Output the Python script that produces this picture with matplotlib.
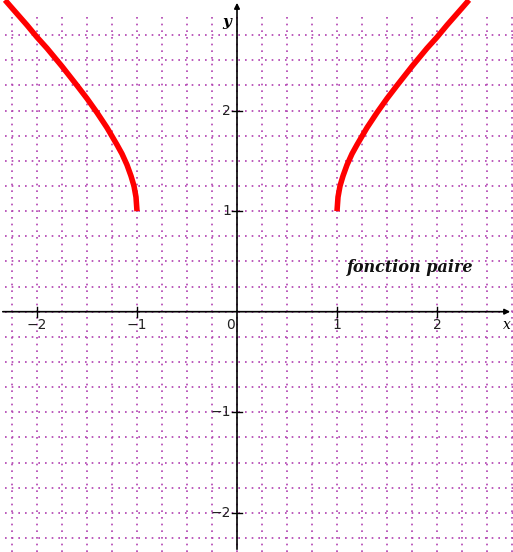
import numpy as np
import matplotlib.pyplot as plt

# right branch (the function is even, left branch mirrors it)
x_right = [1.0, 1.01, 1.03, 1.06, 1.1, 1.15, 1.2, 1.3, 1.4, 1.5, 1.6, 1.75, 1.9, 2.0, 2.1, 2.25, 2.32]
y_right = [1.0, 1.14, 1.25, 1.35, 1.46, 1.57, 1.66, 1.83, 1.98, 2.12, 2.25, 2.44, 2.62, 2.73, 2.85, 3.02, 3.1]
x_left = [-v for v in x_right]
y_left = y_right

x_ticks = [-2, -1, 1, 2]
y_ticks = [-2, -1, 1, 2]
grid_vals = np.arange(-2.25, 2.76, 0.25)

fig = plt.figure(figsize=(5.13, 5.52), dpi=100)
ax = fig.add_axes([0, 0, 1, 1])
ax.set_xlim(-2.37, 2.76)
ax.set_ylim(-2.39, 3.1)

grid_col = '#b040b0'
ax.vlines(grid_vals, -2.39, 2.97, colors=grid_col, lw=1.2, linestyles=(0, (1, 3)), zorder=1)
ax.hlines(grid_vals, -2.32, 2.76, colors=grid_col, lw=1.2, linestyles=(0, (1, 3)), zorder=1)

# axes with arrows
ax.annotate('', xy=(2.76, 0), xytext=(-2.37, 0),
            arrowprops=dict(arrowstyle='-|>', color='black', lw=1.2, mutation_scale=8), zorder=3)
ax.annotate('', xy=(0, 3.1), xytext=(0, -2.39),
            arrowprops=dict(arrowstyle='-|>', color='black', lw=1.2, mutation_scale=8), zorder=3)

for t in x_ticks:
    ax.plot([t, t], [-0.05, 0.05], color='black', lw=1, zorder=3)
    ax.text(t, -0.06, str(t).replace('-', '\u2212'), ha='center', va='top', fontsize=10, color='#222222')
for t in y_ticks:
    ax.plot([-0.05, 0.05], [t, t], color='black', lw=1, zorder=3)
    ax.text(-0.06, t, str(t).replace('-', '\u2212'), ha='right', va='center', fontsize=10, color='#222222')
ax.text(-0.02, -0.06, '0', ha='right', va='top', fontsize=10, color='#222222')
ax.text(2.66, -0.06, 'x', ha='left', va='top', fontsize=10, family='serif', style='italic')
ax.text(-0.06, 2.88, 'y', ha='right', va='center', fontsize=11, family='serif', style='italic', weight='bold')

ax.plot(x_right, y_right, color='red', lw=4, solid_capstyle='butt', zorder=4)
ax.plot(x_left, y_left, color='red', lw=4, solid_capstyle='butt', zorder=4)

ax.text(1.1, 0.44, 'fonction paire', ha='left', va='center', fontsize=11.5,
        family='serif', style='italic', weight='bold', color='#111111')

ax.axis('off')
fig.savefig('out.png', dpi=100)
